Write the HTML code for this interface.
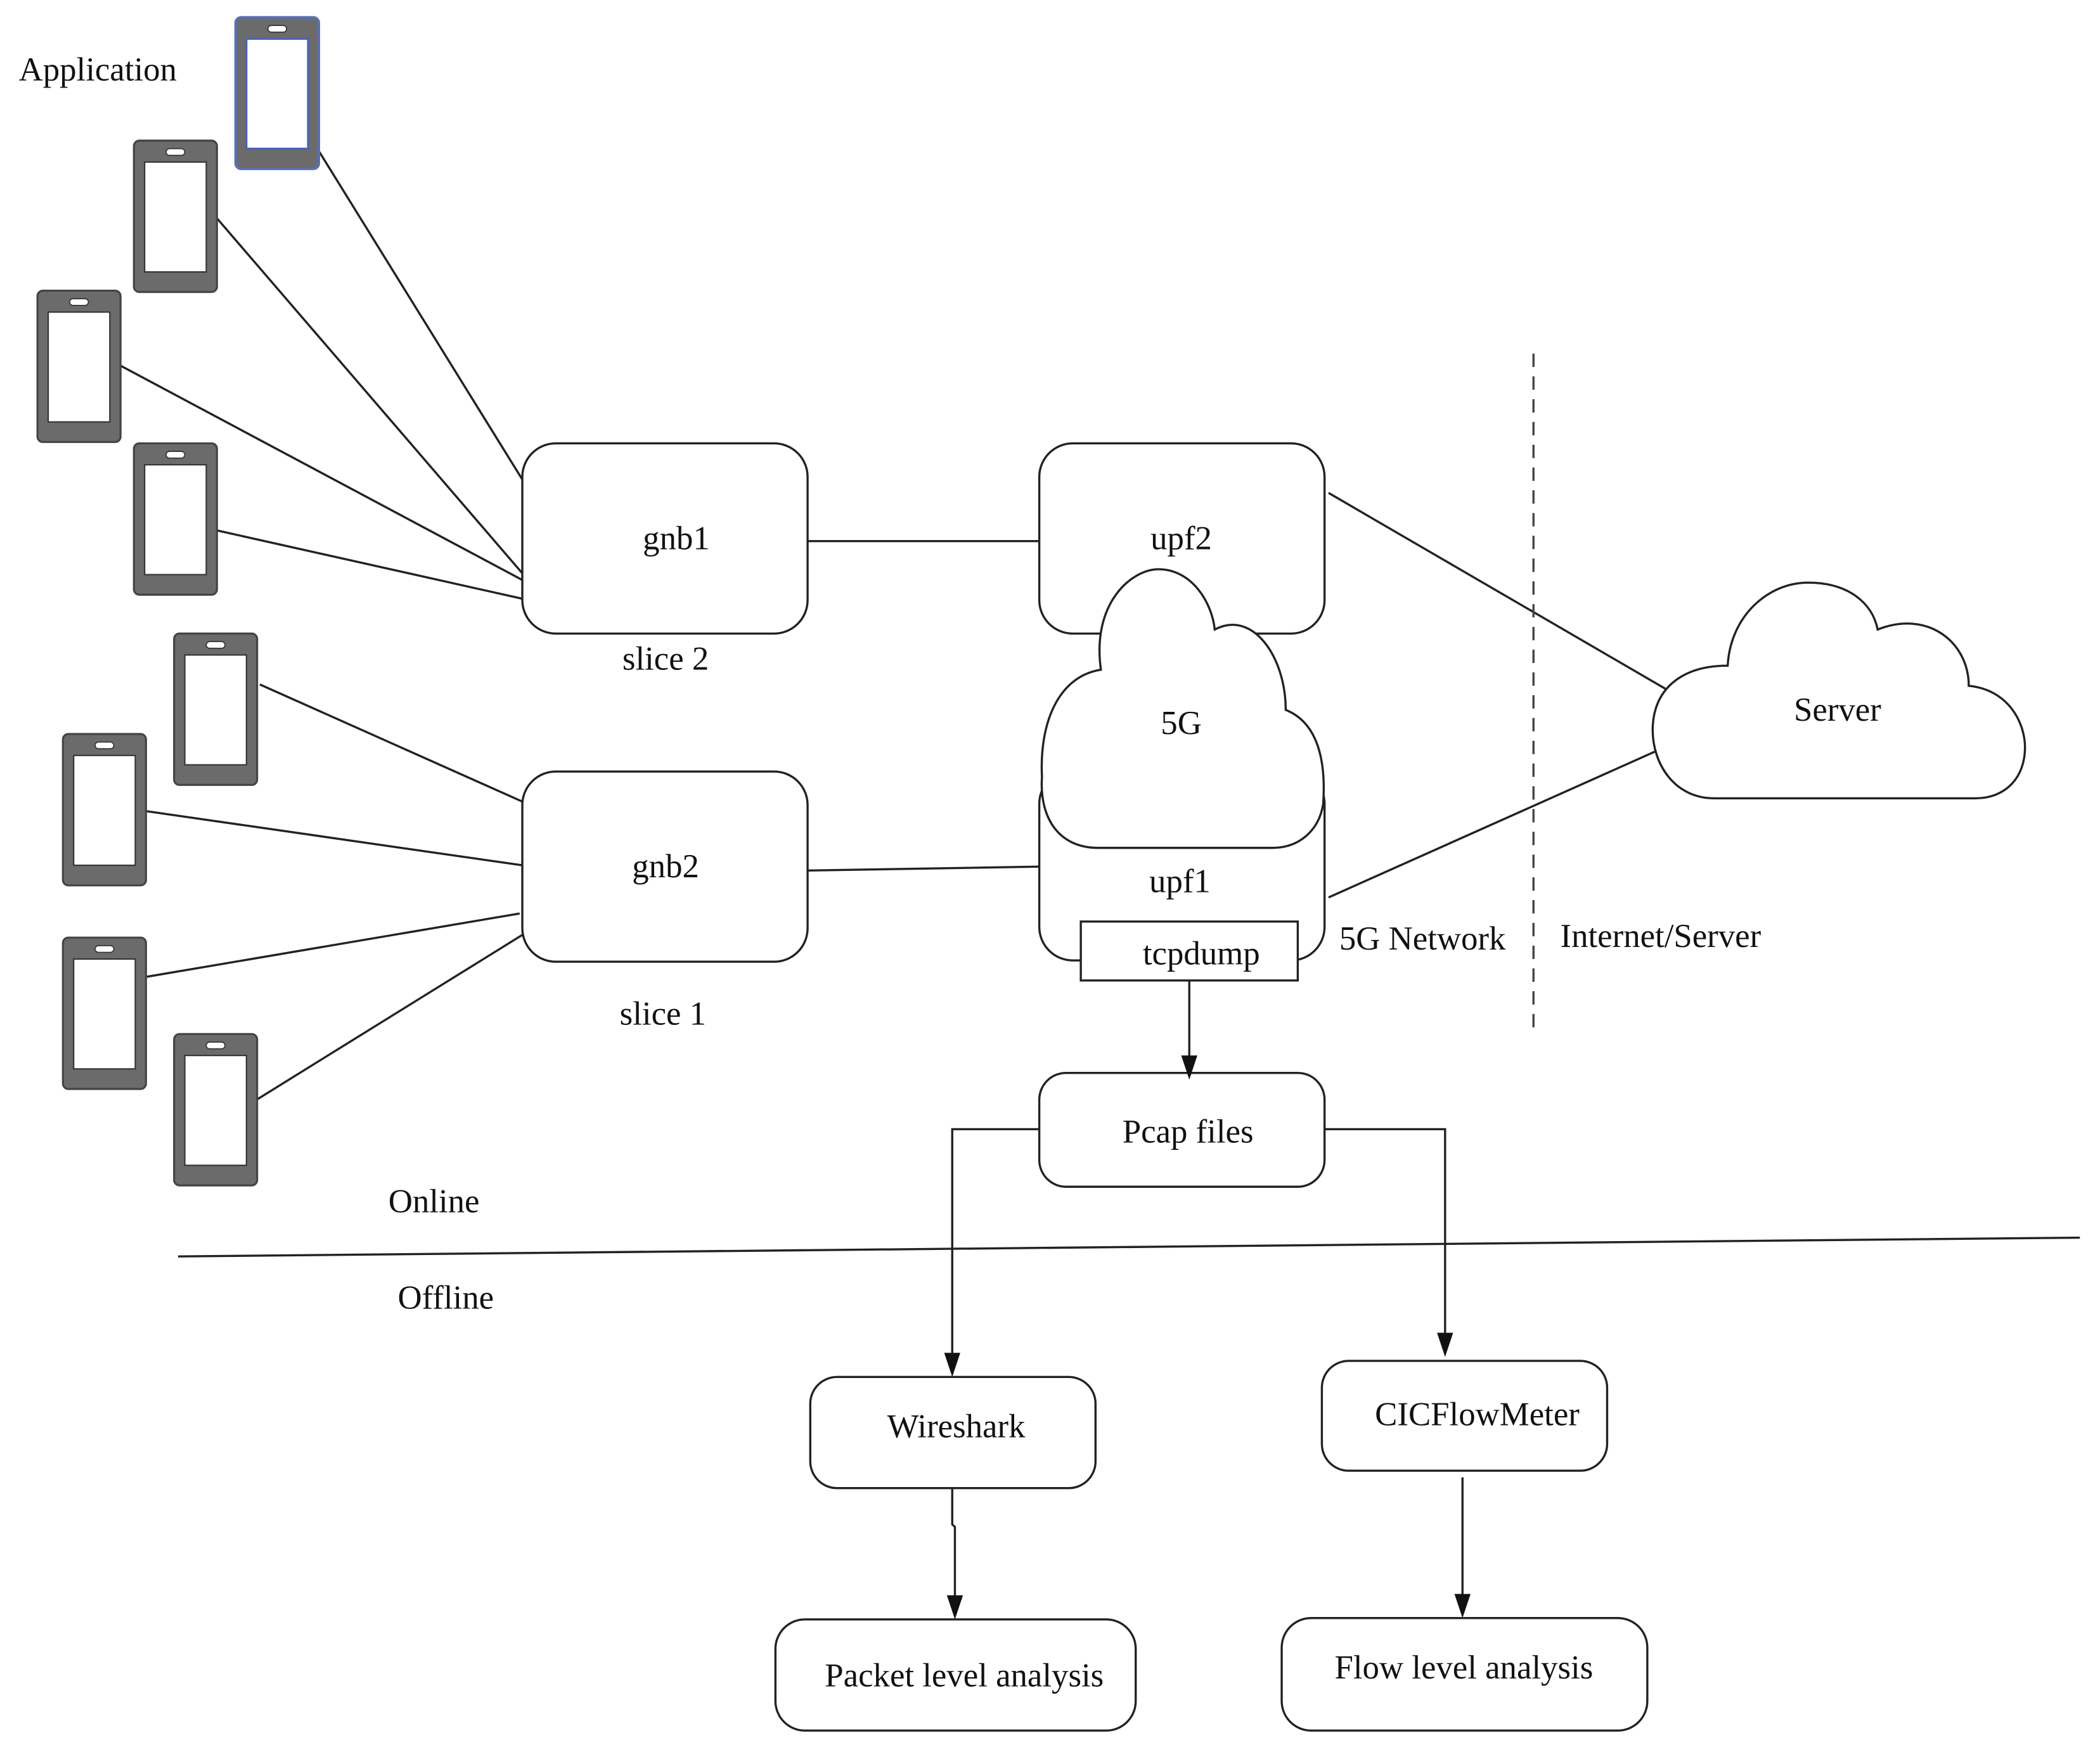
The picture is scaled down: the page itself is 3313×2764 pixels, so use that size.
<!DOCTYPE html>
<html><head><meta charset="utf-8"><style>
html,body{margin:0;padding:0;background:#fff}
svg{display:block}
text{font-family:"Liberation Serif",serif;font-size:25px;fill:#111}
</style></head><body>
<svg width="3313" height="2764" viewBox="0 0 1568 1308" preserveAspectRatio="none" xmlns="http://www.w3.org/2000/svg">
<defs>
<g id="ph">
<rect x="0" y="0" width="62" height="113" rx="4" fill="#6b6b6b" stroke="#444" stroke-width="1.5"/>
<rect x="8" y="16" width="46" height="82" fill="#fff" stroke="#333" stroke-width="1"/>
<rect x="24" y="6" width="14" height="5" rx="2.5" fill="#fff" stroke="#333" stroke-width="0.8"/>
</g>
</defs>
<g stroke="#222" stroke-width="1.6" fill="none">
<line x1="232" y1="103" x2="390" y2="358"/>
<line x1="162" y1="163" x2="390" y2="428"/>
<line x1="90" y1="273" x2="390" y2="433"/>
<line x1="162" y1="396" x2="390" y2="447"/>
<line x1="194" y1="511" x2="398" y2="602"/>
<line x1="105" y1="605" x2="390" y2="646"/>
<line x1="105" y1="730" x2="388" y2="682"/>
<line x1="190" y1="822" x2="390" y2="698"/>
<line x1="603" y1="404" x2="776" y2="404"/>
<line x1="598" y1="650" x2="776" y2="647"/>
<line x1="992" y1="368" x2="1250" y2="518"/>
<line x1="992" y1="670" x2="1236" y2="561"/>
<line x1="133" y1="938" x2="1553" y2="924"/>
</g>
<line x1="1145" y1="264" x2="1145" y2="772" stroke="#444" stroke-width="1.6" stroke-dasharray="10,7"/>
<use href="#ph" x="100" y="105"/>
<use href="#ph" x="28" y="217"/>
<use href="#ph" x="100" y="331"/>
<use href="#ph" x="130" y="473"/>
<use href="#ph" x="47" y="548"/>
<use href="#ph" x="47" y="700"/>
<use href="#ph" x="130" y="772"/>
<g>
<rect x="176" y="13" width="62" height="113" rx="4" fill="#6b6b6b" stroke="#5a6fb0" stroke-width="2"/>
<rect x="184" y="29" width="46" height="82" fill="#fff" stroke="#4a63b5" stroke-width="1.5"/>
<rect x="200" y="19" width="14" height="5" rx="2.5" fill="#fff" stroke="#333" stroke-width="0.8"/>
</g>
<g stroke="#222" stroke-width="1.6" fill="#fff">
<rect x="390" y="331" width="213" height="142" rx="25"/>
<rect x="390" y="576" width="213" height="142" rx="25"/>
<rect x="776" y="331" width="213" height="142" rx="25"/>
<rect x="776" y="575" width="213" height="142" rx="25"/>
<path d="M820,633 C790,633 776,610 778,580 C776,540 790,505 822,500 C815,450 845,425 865,425 C890,425 905,450 907,470 C935,455 960,490 960,530 C985,540 990,570 988,600 C985,620 970,633 950,633 Z"/>
<rect x="807" y="688" width="162" height="44"/>
<path d="M1280,596 C1250,596 1234,570 1234,545 C1234,515 1255,497 1290,497 C1292,460 1320,435 1350,435 C1380,435 1398,450 1402,470 C1440,455 1470,480 1470,512 C1500,515 1512,540 1512,558 C1512,580 1498,596 1475,596 Z"/>
<rect x="776" y="801" width="213" height="85" rx="20"/>
<rect x="605" y="1028" width="213" height="83" rx="20"/>
<rect x="987" y="1016" width="213" height="82" rx="20"/>
<rect x="579" y="1209" width="269" height="83" rx="22"/>
<rect x="957" y="1208" width="273" height="84" rx="22"/>
</g>
<g stroke="#222" stroke-width="1.6" fill="none">
<line x1="888" y1="732" x2="888" y2="790"/>
<polyline points="776,843 711,843 711,1012"/>
<polyline points="989,843 1079,843 1079,997"/>
<polyline points="711,1111 711,1138 713,1140 713,1193"/>
<line x1="1092" y1="1103" x2="1092" y2="1192"/>
</g>
<g fill="#111">
<path d="M882,788 L894,788 L888,806 Z"/>
<path d="M705,1010 L717,1010 L711,1028 Z"/>
<path d="M1073,995 L1085,995 L1079,1013 Z"/>
<path d="M707,1191 L719,1191 L713,1209 Z"/>
<path d="M1086,1190 L1098,1190 L1092,1208 Z"/>
</g>
<text x="14" y="60">Application</text>
<text x="505" y="410" text-anchor="middle">gnb1</text>
<text x="497" y="500" text-anchor="middle">slice 2</text>
<text x="497" y="655" text-anchor="middle">gnb2</text>
<text x="495" y="765" text-anchor="middle">slice 1</text>
<text x="882" y="410" text-anchor="middle">upf2</text>
<text x="882" y="548" text-anchor="middle">5G</text>
<text x="881" y="666" text-anchor="middle">upf1</text>
<text x="897" y="720" text-anchor="middle">tcpdump</text>
<text x="1372" y="538" text-anchor="middle">Server</text>
<text x="1000" y="709">5G Network</text>
<text x="1165" y="707">Internet/Server</text>
<text x="887" y="853" text-anchor="middle">Pcap files</text>
<text x="290" y="905">Online</text>
<text x="297" y="977">Offline</text>
<text x="714" y="1073" text-anchor="middle">Wireshark</text>
<text x="1103" y="1064" text-anchor="middle">CICFlowMeter</text>
<text x="720" y="1259" text-anchor="middle">Packet level analysis</text>
<text x="1093" y="1253" text-anchor="middle">Flow level analysis</text>
</svg>
</body></html>
